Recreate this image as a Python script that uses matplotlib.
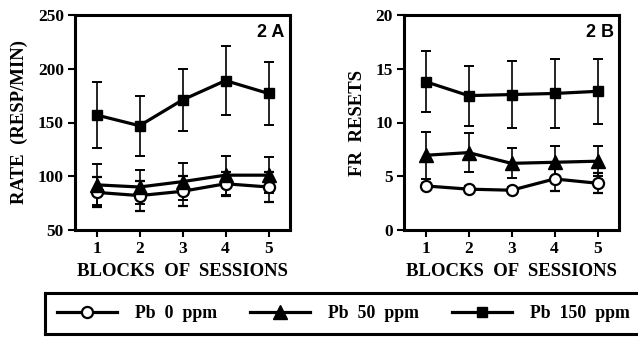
import numpy as np
import matplotlib
matplotlib.use("Agg")
import matplotlib.pyplot as plt

# === data ===
blocks = [1, 2, 3, 4, 5]

# 2A: response rate (resp/min)
rate_pb0 = [85, 82, 86, 93, 90]
rate_pb0_err = [14, 14, 14, 11, 14]
rate_pb50 = [92, 90, 95, 101, 101]
rate_pb50_err = [19, 16, 17, 18, 17]
rate_pb150 = [157, 147, 171, 189, 177]
rate_pb150_err = [31, 28, 29, 32, 29]

# 2B: FR resets
fr_pb0 = [4.1, 3.8, 3.7, 4.75, 4.35]
fr_pb0_err = [0.3, 0.3, 0.3, 1.1, 0.95]
fr_pb50 = [6.95, 7.2, 6.2, 6.3, 6.4]
fr_pb50_err = [2.2, 1.85, 1.4, 1.5, 1.4]
fr_pb150 = [13.8, 12.5, 12.6, 12.7, 12.9]
fr_pb150_err = [2.85, 2.8, 3.15, 3.2, 3.05]

labels = ["Pb  0  ppm", "Pb  50  ppm", "Pb  150  ppm"]

SERIF = "Liberation Serif"
SANS = "Liberation Sans"

plt.rcParams["font.family"] = SERIF
plt.rcParams["font.weight"] = "bold"

fig = plt.figure(figsize=(6.38, 3.37), dpi=100)
axA = fig.add_axes([75 / 638, 1 - 230 / 337, 215 / 638, 215 / 337])
axB = fig.add_axes([404 / 638, 1 - 230 / 337, 215 / 638, 215 / 337])

styles = [
    dict(marker="o", markerfacecolor="white", markersize=8, markeredgewidth=1.6),
    dict(marker="^", markerfacecolor="black", markersize=9.5),
    dict(marker="s", markerfacecolor="black", markersize=7.5),
]


def draw(ax, series, ylim, yticks, ylabel, tag):
    handles = []
    for (y, e), st in zip(series, styles):
        h = ax.errorbar(blocks, y, yerr=e, color="black", lw=2.3,
                        elinewidth=1.2, capsize=3.8, capthick=1.4,
                        markeredgecolor="black", **st)
        handles.append(h[0])
    ax.set_xlim(0.5, 5.5)
    ax.set_ylim(*ylim)
    ax.set_xticks(blocks)
    ax.set_yticks(yticks)
    for s in ax.spines.values():
        s.set_linewidth(2.2)
    ax.tick_params(direction="out", length=5, width=1.5, labelsize=12.5, pad=3)
    for t in ax.get_xticklabels() + ax.get_yticklabels():
        t.set_fontweight("bold")
    ax.set_xlabel("BLOCKS  OF  SESSIONS", fontsize=13.5, fontweight="bold", labelpad=4)
    ax.set_ylabel(ylabel, fontsize=13.5, fontweight="bold", labelpad=7)
    ax.text(0.975, 0.96, tag, transform=ax.transAxes, ha="right", va="top",
            fontsize=13, fontweight="bold", family=SANS)
    return handles


handles = draw(axA, [(rate_pb0, rate_pb0_err), (rate_pb50, rate_pb50_err),
                     (rate_pb150, rate_pb150_err)],
               (50, 250), [50, 100, 150, 200, 250], "RATE  (RESP/MIN)", "2 A")
draw(axB, [(fr_pb0, fr_pb0_err), (fr_pb50, fr_pb50_err),
           (fr_pb150, fr_pb150_err)],
     (0, 20), [0, 5, 10, 15, 20], "FR  RESETS", "2 B")

# legend box, runs off the right edge like the original
lax = fig.add_axes([45 / 638, 1 - 334 / 337, 610 / 638, 41 / 337])
lax.set_xticks([])
lax.set_yticks([])
for s in lax.spines.values():
    s.set_linewidth(2.2)
lax.patch.set_alpha(0)
leg = lax.legend(handles, labels, ncol=3, frameon=False, loc="center left",
                 bbox_to_anchor=(0.0, 0.5), handlelength=3.4, handletextpad=1.0,
                 columnspacing=1.85, borderaxespad=0.25,
                 prop=dict(family=SERIF, weight="bold", size=12.8))

fig.savefig("out.png", dpi=100)
